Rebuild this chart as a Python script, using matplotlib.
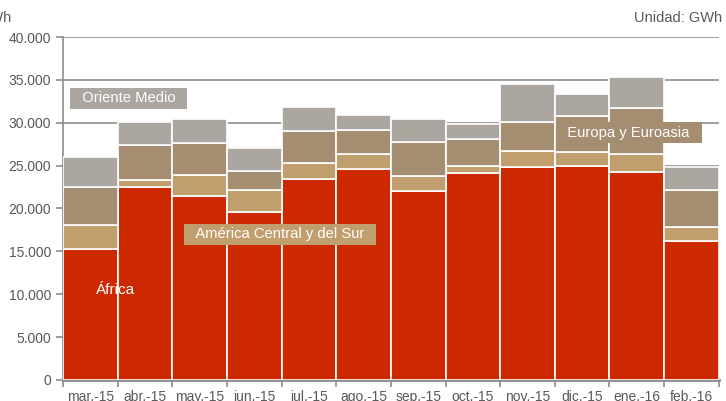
import numpy as np
import matplotlib.pyplot as plt
from matplotlib.ticker import FuncFormatter

plt.rcParams['font.family'] = ['Liberation Sans', 'DejaVu Sans']

months = ['mar.-15', 'abr.-15', 'may.-15', 'jun.-15', 'jul.-15', 'ago.-15',
          'sep.-15', 'oct.-15', 'nov.-15', 'dic.-15', 'ene.-16', 'feb.-16']

# cumulative tops (GWh)
top_africa = [15300, 22450, 21400, 19600, 23400, 24550, 22000, 24100, 24850, 24900, 24200, 16200]
top_america = [18050, 23300, 23950, 22150, 25350, 26300, 23800, 24950, 26650, 26600, 26400, 17900]
top_europa = [22550, 27400, 27600, 24400, 29000, 29200, 27700, 28100, 30050, 30800, 31700, 22100]
top_oriente = [26000, 30050, 30400, 27000, 31800, 30900, 30400, 29900, 34500, 33400, 35300, 24800]

africa = np.array(top_africa)
america = np.array(top_america) - africa
europa = np.array(top_europa) - np.array(top_america)
oriente = np.array(top_oriente) - np.array(top_europa)

c_af = '#cc2900'
c_am = '#c19e6e'
c_eu = '#a58d72'
c_om = '#aca6a0'

fig = plt.figure(figsize=(7.26, 4.01), dpi=100)
ax = fig.add_axes([0.0868, 0.0524, 0.9032, 0.8553])

x = np.arange(len(months))
kw = dict(width=1.0, edgecolor='white', linewidth=1.2, zorder=3)
ax.bar(x, africa, color=c_af, **kw)
ax.bar(x, america, bottom=africa, color=c_am, **kw)
ax.bar(x, europa, bottom=africa + america, color=c_eu, **kw)
ax.bar(x, oriente, bottom=africa + america + europa, color=c_om, **kw)

ax.set_xlim(-0.5, len(months) - 0.5)
ax.set_ylim(0, 40000)
ax.set_yticks(np.arange(0, 40001, 5000))
ax.yaxis.set_major_formatter(FuncFormatter(lambda v, p: f'{int(v):,}'.replace(',', '.')))
ax.grid(axis='y', color='#999999', linewidth=1.3, zorder=0)

ax.set_xticks(np.arange(-0.5, len(months) + 0.5, 1))
ax.set_xticklabels([])
ax.set_xticks(x, minor=True)
ax.set_xticklabels(months, minor=True)
ax.tick_params(axis='x', which='minor', length=0, pad=7, labelsize=10, labelcolor='#595959')
ax.tick_params(axis='x', which='major', length=5, width=1.2, color='#8c8c8c')
ax.tick_params(axis='y', length=5, width=1.2, color='#8c8c8c', labelsize=10, labelcolor='#595959')

for s in ['top', 'right']:
    ax.spines[s].set_visible(False)
ax.spines['left'].set_color('#8c8c8c')
ax.spines['bottom'].set_color('#8c8c8c')
ax.spines['bottom'].set_linewidth(2)
ax.spines['left'].set_linewidth(1.2)

box = dict(boxstyle='square,pad=0.25', edgecolor='none')
lab = dict(color='white', fontsize=10.6, ha='center', va='center', zorder=5)
ax.text(0.7, 32850, '  Oriente Medio  ', bbox=dict(box, facecolor=c_om), **lab)
ax.text(3.47, 17000, '  América Central y del Sur  ', bbox=dict(box, facecolor=c_am), **lab)
ax.text(9.85, 28850, '  Europa y Euroasia  ', bbox=dict(box, facecolor=c_eu), **lab)
ax.text(0.47, 10500, 'África', color='white', fontsize=11, ha='center', va='center', zorder=5)

fig.text(-0.03, 0.955, 'GWh', fontsize=10.5, color='#595959', ha='left', va='center')
fig.text(0.995, 0.955, 'Unidad: GWh', fontsize=10.5, color='#595959', ha='right', va='center')

plt.savefig('out.png', dpi=100)
